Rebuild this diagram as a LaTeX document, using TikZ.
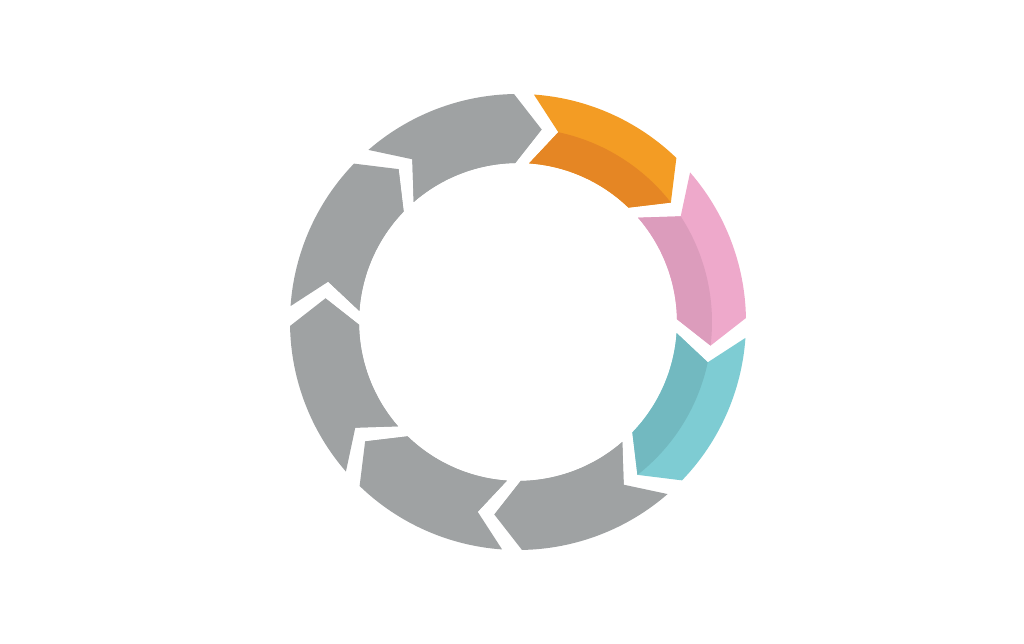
\documentclass[tikz,border=0pt]{standalone}
\usepackage{tikz}
\usetikzlibrary{arrows.meta}

\definecolor{orangeL}{RGB}{243,156,36}
\definecolor{orangeD}{RGB}{229,134,36}
\definecolor{pinkL}{RGB}{238,169,203}
\definecolor{pinkD}{RGB}{220,156,188}
\definecolor{tealL}{RGB}{126,204,211}
\definecolor{tealD}{RGB}{114,185,192}
\definecolor{cgrey}{RGB}{159,162,163}

\begin{document}
\begin{tikzpicture}[
    seg/.style={line join=round},
    band/.style={line join=round}
]
\useasboundingbox (0,0) rectangle (10.24,6.44);
\def\ro{2.28}
\def\ri{1.59}
\def\rm{1.94}
\begin{scope}[shift={(5.18,3.22)}]
% arrow segments, running clockwise
\foreach \a/\lt/\dk in {86/orangeL/orangeD, 41/pinkL/pinkD, -4/tealL/tealD,
    -49/cgrey/cgrey, -94/cgrey/cgrey, -139/cgrey/cgrey, -184/cgrey/cgrey, -229/cgrey/cgrey} {
  \fill[seg, \lt] (\a:\ro) arc[start angle=\a, end angle=\a-40, radius=\ro]
    -- (\a-48:\rm) -- (\a-40:\ri) arc[start angle=\a-40, end angle=\a, radius=\ri]
    -- (\a-8:\rm) -- cycle;
  % darker inner half
  \fill[band, \dk] (\a-8:\rm) arc[start angle=\a-8, end angle=\a-48, radius=\rm]
    -- (\a-40:\ri) arc[start angle=\a-40, end angle=\a, radius=\ri] -- cycle;
}
\end{scope}
\end{tikzpicture}
\end{document}
